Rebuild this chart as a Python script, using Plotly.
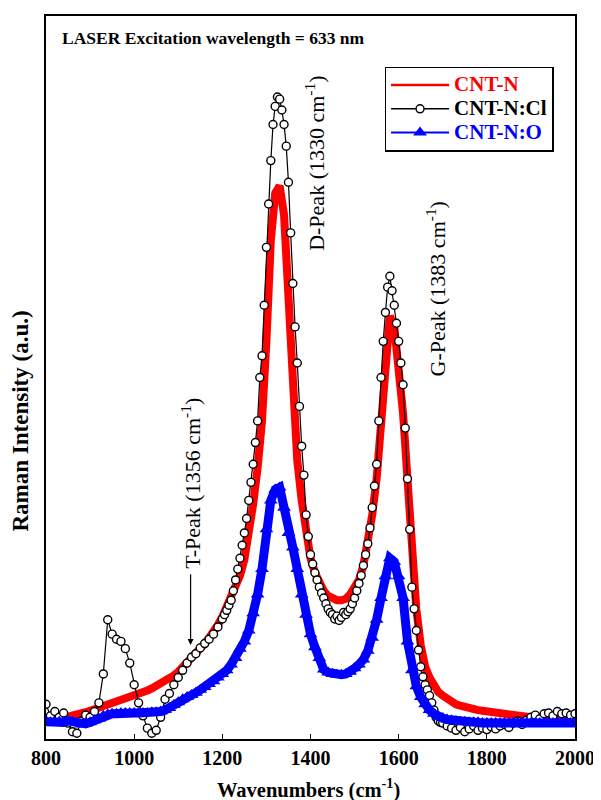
import plotly.graph_objects as go

# ---------------- data ----------------
wavenumber = list(range(800, 2001, 10))

cnt_n = [
    2.8, 2.8, 2.9, 3.0, 3.0, 3.1, 3.2, 3.4, 3.5, 3.7,          # 800-890
    3.9, 4.1, 4.3, 4.6, 4.8, 5.0, 5.2, 5.4, 5.6, 5.8,          # 900-990
    6.0, 6.2, 6.4, 6.7, 7.0, 7.3, 7.6, 7.9, 8.3, 8.8,          # 1000-1090
    9.3, 9.9, 10.6, 11.2, 11.8, 12.5, 13.2, 14.0, 14.8, 15.8,  # 1100-1190
    16.9, 18.2, 19.6, 21.0, 22.6, 24.8, 28.0, 32.5, 37.5, 44.0,  # 1200-1290
    55.0, 69.0, 75.5, 76.5, 72.5, 60.0, 47.0, 38.5, 33.0, 28.0,  # 1300-1390
    25.0, 23.0, 21.5, 20.5, 19.8, 19.4, 19.2, 19.2, 19.4, 20.0,  # 1400-1490
    21.0, 22.0, 24.0, 27.0, 31.0, 36.0, 43.0, 51.0, 58.5, 57.0,  # 1500-1590
    52.0, 45.0, 36.0, 26.0, 18.0, 13.0, 10.0, 8.5, 7.2, 6.5,     # 1600-1690
    6.0, 5.5, 5.1, 4.8, 4.6, 4.4, 4.3, 4.1, 4.0, 3.9,            # 1700-1790
    3.8, 3.7, 3.6, 3.6, 3.5, 3.4, 3.3, 3.2, 3.2, 3.1,            # 1800-1890
    3.0, 3.0, 3.0, 3.0, 2.9, 2.9, 2.9, 2.9, 2.9, 2.9,            # 1900-1990
    2.9,                                                         # 2000
]

cnt_n_cl_x = (list(range(800, 1200, 10)) + list(range(1200, 1701, 5))
              + list(range(1710, 2001, 10)))
cnt_n_cl = [
    # 800-1190 (step 10)
    4.8, 3.2, 3.8, 3.0, 3.6, 2.2, 1.0, 0.8, 2.5, 3.3,
    3.0, 3.8, 5.0, 9.0, 16.5, 14.5, 13.8, 13.5, 12.5, 10.5,
    7.5, 5.0, 3.2, 1.5, 0.8, 1.2, 3.0, 5.5, 6.3, 7.5,
    8.5, 9.5, 10.5, 11.3, 11.8, 12.6, 13.2, 13.8, 14.5, 15.5,
    # 1200-1295 (step 5)
    16.6, 17.2, 17.8, 18.5, 19.2, 20.5, 22.0, 23.5, 25.0, 26.8,
    28.5, 30.5, 33.0, 35.5, 38.0, 41.0, 44.0, 50.0, 53.0, 60.0,
    # 1300-1395
    68.0, 74.0, 80.0, 85.0, 87.5, 88.8, 88.5, 87.0, 85.0, 82.0,
    77.0, 70.0, 63.0, 57.0, 52.0, 46.0, 40.5, 36.5, 31.0, 28.0,
    # 1400-1495
    25.5, 24.2, 23.0, 22.0, 21.0, 20.2, 19.5, 18.7, 18.0, 17.5,
    17.2, 16.6, 17.0, 16.4, 16.8, 17.5, 17.2, 17.6, 18.0, 18.7,
    # 1500-1595
    19.5, 20.5, 21.5, 22.6, 24.0, 25.5, 27.0, 29.2, 32.0, 35.0,
    38.0, 44.0, 50.0, 55.0, 59.0, 62.5, 64.0, 62.0, 60.0, 57.5,
    # 1600-1695
    55.0, 52.0, 49.0, 43.0, 36.0, 29.0, 21.0, 18.0, 15.0, 12.3,
    10.0, 8.6, 7.5, 6.8, 6.0, 5.0, 4.0, 3.0, 2.5, 2.3,
    # 1700
    2.2,
    # 1710-2000 (step 10)
    1.8, 1.5, 1.2, 1.6, 1.0, 1.4, 1.8, 1.2, 1.5,
    1.3, 1.7, 1.4, 1.8, 2.0, 1.6, 2.2, 2.5, 2.0, 2.6,
    3.0, 3.3, 2.8, 3.5, 3.6, 3.2, 3.8, 3.5, 3.6, 3.3,
    3.5,
]

cnt_n_o = [
    2.4, 2.3, 2.2, 2.4, 2.3, 2.5, 2.4, 2.2, 2.0, 2.1,            # 800-890
    2.3, 2.6, 2.8, 3.2, 3.4, 3.5, 3.5, 3.6, 3.6, 3.6,            # 900-990
    3.6, 3.6, 3.6, 3.6, 3.7, 3.7, 3.8, 4.0, 4.3, 4.7,            # 1000-1090
    5.1, 5.5, 5.8, 6.1, 6.4, 6.8, 7.2, 7.6, 8.0, 8.5,            # 1100-1190
    9.0, 9.5, 10.3, 11.2, 12.5, 13.5, 15.0, 17.4, 20.0, 23.5,    # 1200-1290
    29.0, 33.0, 34.5, 34.8, 32.0, 28.5, 26.5, 23.5, 20.0, 17.2,  # 1300-1390
    14.5, 12.7, 11.2, 9.6, 9.2, 9.0, 8.9, 8.9, 9.0, 9.3,         # 1400-1490
    9.8, 10.3, 11.0, 12.2, 14.0, 16.5, 19.5, 22.5, 25.0, 24.5,   # 1500-1590
    22.5, 19.5, 13.5, 9.5, 7.3, 5.8, 4.8, 4.0, 3.5, 3.1,         # 1600-1690
    2.9, 2.7, 2.6, 2.5, 2.4, 2.4, 2.3, 2.3, 2.3, 2.2,            # 1700-1790
    2.2, 2.2, 2.2, 2.2, 2.2, 2.2, 2.2, 2.2, 2.2, 2.2,            # 1800-1890
    2.2, 2.2, 2.2, 2.2, 2.2, 2.2, 2.2, 2.2, 2.2, 2.2,            # 1900-1990
    2.2,                                                         # 2000
]

series_names = ["CNT-N", "CNT-N:Cl", "CNT-N:O"]
x_ticks = [800, 1000, 1200, 1400, 1600, 1800, 2000]

SERIF = "Liberation Serif, Times New Roman, serif"
RED, BLACK, BLUE = "#ff0000", "#000000", "#0000ff"

fig = go.Figure()

# data traces (legend drawn with separate thin-line entries below)
fig.add_trace(go.Scatter(
    x=wavenumber, y=cnt_n, mode="lines", showlegend=False,
    line=dict(color=RED, width=8),
))
fig.add_trace(go.Scatter(
    x=cnt_n_cl_x, y=cnt_n_cl, mode="lines+markers", showlegend=False,
    line=dict(color=BLACK, width=1.2),
    marker=dict(symbol="circle", size=8, color="white",
                line=dict(color=BLACK, width=1.4)),
))
fig.add_trace(go.Scatter(
    x=wavenumber, y=cnt_n_o, mode="lines+markers", showlegend=False,
    line=dict(color=BLUE, width=9),
    marker=dict(symbol="triangle-up", size=12, color=BLUE,
                line=dict(width=0)),
))

# legend entries
def legend_name(txt, col):
    return "<span style='color:%s;font-size:21px'>%s</span>" % (col, txt)

fig.add_trace(go.Scatter(
    x=[None], y=[None], mode="lines", name=legend_name(series_names[0], RED),
    line=dict(color=RED, width=2.5),
))
fig.add_trace(go.Scatter(
    x=[None], y=[None], mode="lines+markers",
    name=legend_name(series_names[1], BLACK),
    line=dict(color=BLACK, width=1.5),
    marker=dict(symbol="circle", size=8, color="white",
                line=dict(color=BLACK, width=1.4)),
))
fig.add_trace(go.Scatter(
    x=[None], y=[None], mode="lines+markers",
    name=legend_name(series_names[2], BLUE),
    line=dict(color=BLUE, width=2),
    marker=dict(symbol="triangle-up", size=12, color=BLUE,
                line=dict(width=0)),
))

fig.update_layout(
    width=593, height=792,
    margin=dict(l=38, r=21, t=6, b=61),
    plot_bgcolor="white", paper_bgcolor="white",
    font=dict(family=SERIF, size=16, color="black"),
    showlegend=True,
    legend=dict(
        x=0.640, y=0.930, xanchor="left", yanchor="top",
        bordercolor="black", borderwidth=1.5, bgcolor="white",
        font=dict(family=SERIF, size=16, weight="bold"),
        tracegroupgap=0, itemwidth=58,
    ),
    xaxis=dict(
        range=[800, 2000], tickvals=x_ticks,
        ticks="inside", ticklen=5, tickwidth=1.2, tickcolor="black",
        showline=True, linecolor="black", linewidth=1.5, mirror=True,
        showgrid=False, zeroline=False,
        tickfont=dict(family=SERIF, size=20, weight="bold"),
    ),
    yaxis=dict(
        range=[0, 100], showticklabels=False, ticks="",
        showline=True, linecolor="black", linewidth=1.5, mirror=True,
        showgrid=False, zeroline=False,
    ),
    annotations=[
        dict(text="<b>LASER Excitation wavelength = 633 nm</b>",
             xref="paper", yref="paper", x=0.026, y=0.970,
             xanchor="left", yanchor="middle", showarrow=False,
             font=dict(family=SERIF, size=17.5)),
        dict(text="<b>Wavenumbers (cm<sup>-1</sup>)</b>",
             xref="paper", yref="paper", x=0.496, y=-0.068,
             xanchor="center", yanchor="middle", showarrow=False,
             font=dict(family=SERIF, size=20.5)),
        dict(text="<b>Raman Intensity (a.u.)</b>",
             xref="paper", yref="paper", x=-0.048, y=0.44,
             xanchor="center", yanchor="middle", showarrow=False,
             textangle=-90, font=dict(family=SERIF, size=23)),
        dict(text="D-Peak (1330 cm<sup>-1</sup>)",
             xref="x", yref="y", x=1411, y=79.6,
             xanchor="center", yanchor="middle", showarrow=False,
             textangle=-90, font=dict(family=SERIF, size=22)),
        dict(text="G-Peak (1383 cm<sup>-1</sup>)",
             xref="x", yref="y", x=1685, y=62.2,
             xanchor="center", yanchor="middle", showarrow=False,
             textangle=-90, font=dict(family=SERIF, size=22)),
        dict(text="T-Peak (1356 cm<sup>-1</sup>)",
             xref="x", yref="y", x=1128, y=35.4,
             xanchor="center", yanchor="middle", showarrow=False,
             textangle=-90, font=dict(family=SERIF, size=22)),
        dict(text="", xref="x", yref="y", x=1128, y=13.0,
             ax=1128, ay=23.0, axref="x", ayref="y",
             showarrow=True, arrowhead=2, arrowsize=1, arrowwidth=1.2,
             arrowcolor="black"),
    ],
)

fig.write_html("out.html")
